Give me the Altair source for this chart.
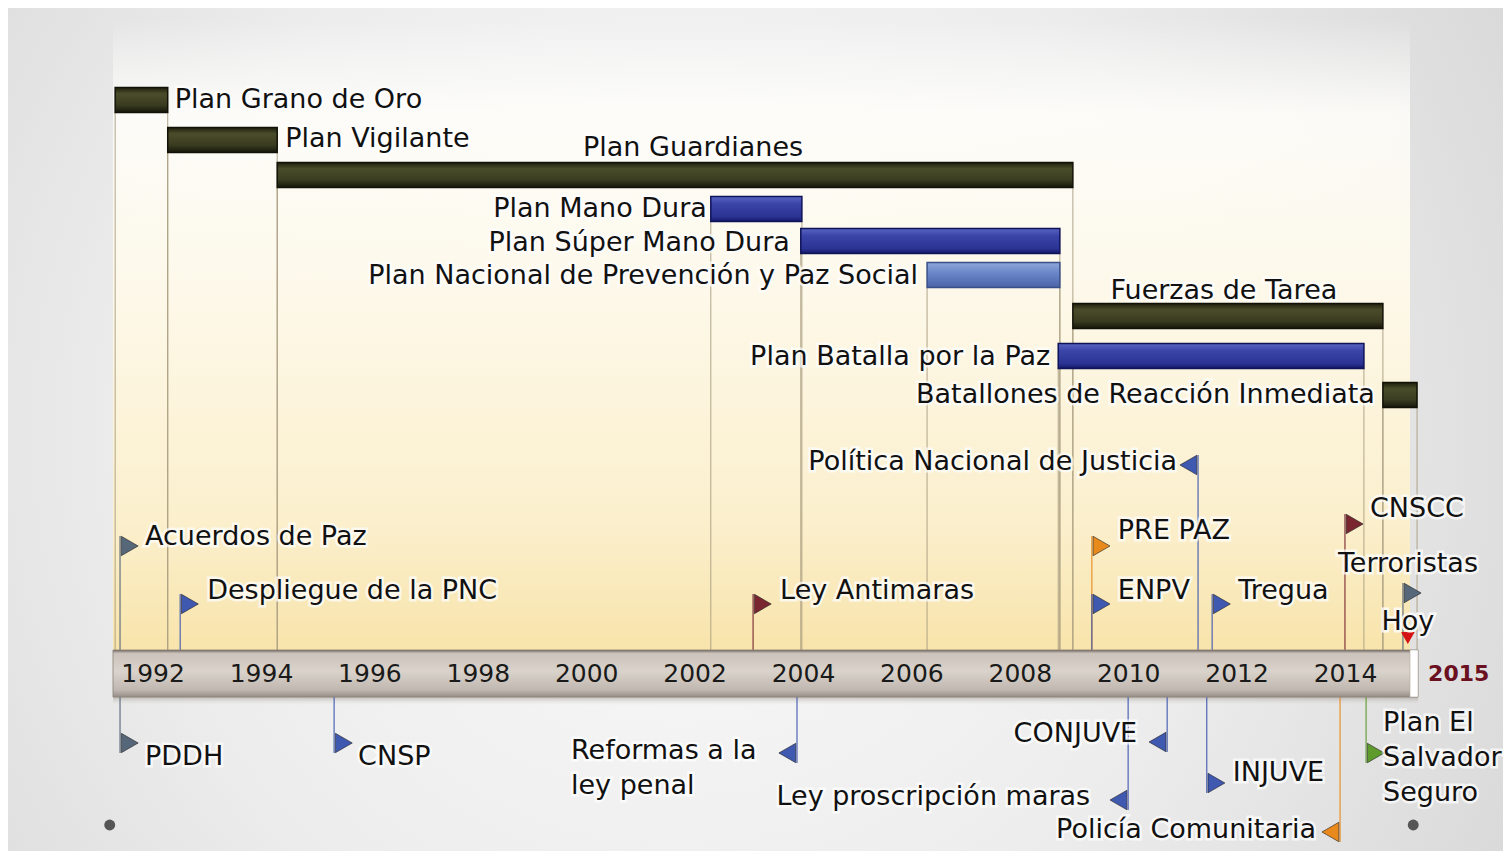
import altair as alt
import pandas as pd

# ---------------- data ----------------
bar_names = ["Plan Grano de Oro", "Plan Vigilante", "Plan Guardianes", "Plan Mano Dura",
             "Plan Súper Mano Dura", "Plan Nacional de Prevención y Paz Social",
             "Fuerzas de Tarea", "Plan Batalla por la Paz", "Batallones de Reacción Inmediata"]
bar_start = [1991.80, 1992.77, 1994.79, 2002.79, 2004.45, 2006.78, 2009.47, 2009.20, 2015.19]
bar_end = [1992.77, 1994.79, 2009.47, 2004.47, 2009.23, 2009.23, 2015.19, 2014.84, 2015.82]
bar_kind = ["militar", "militar", "militar", "represivo", "represivo", "preventivo",
            "militar", "represivo", "militar"]

event_names = ["Acuerdos de Paz", "Despliegue de la PNC", "Ley Antimaras", "PRE PAZ", "ENPV",
               "Política Nacional de Justicia", "Tregua", "CNSCC", "Terroristas",
               "PDDH", "CNSP", "Reformas a la\nley penal", "Ley proscripción maras",
               "CONJUVE", "INJUVE", "Policía Comunitaria", "Plan El\nSalvador\nSeguro"]
event_years = [1991.89, 1993.00, 2003.57, 2009.82, 2009.82, 2011.78, 2012.04, 2014.49, 2015.56,
               1991.89, 1995.84, 2004.38, 2010.49, 2011.21, 2011.94, 2014.40, 2014.88]
event_kind = ["general", "institucional", "represivo", "preventivo", "institucional",
              "institucional", "institucional", "represivo", "general",
              "general", "institucional", "institucional", "institucional",
              "institucional", "institucional", "preventivo", "seguridad"]

tick_years = [1992, 1994, 1996, 1998, 2000, 2002, 2004, 2006, 2008, 2010, 2012, 2014]
end_label = "2015"
today_label = "Hoy"
today_year = 2015.65

# ---------------- layout / style ----------------
W, H = 1495, 843
X_DOMAIN = [1989.823, 2017.406]
Y_DOMAIN = [8, 851]          # vertical layout units, top to bottom
PPY = W / (X_DOMAIN[1] - X_DOMAIN[0])   # pixels per year
AXIS_START, AXIS_END, PANEL_END = 1991.76, 2015.84, 2015.69
AXIS_TOP, AXIS_BOTTOM = 650, 697
BAR_HALF = 12.5
FONT = "DejaVu Sans"
FS = 27

bar_row = [100, 140, 175, 209, 241, 275, 316, 356, 395]
bar_label_side = ["right", "right", "above", "left", "left", "left", "above", "left", "left"]
bar_label_dx = [7, 8, 18, -4, -11, -9, -4, -8, -8]
bar_label_dy = [0, -1, -27, 0, 2, 1, -25, 1, 0]

ev_side = ["above"] * 9 + ["below"] * 8
ev_flag_y = [546, 604, 604, 546, 604, 465, 604, 524, 593, 743, 743, 753, 800, 742, 783, 832, 753]
ev_dir = ["right", "right", "right", "right", "right", "left", "right", "right", "right",
          "right", "right", "left", "left", "left", "right", "left", "right"]
ev_label_dx = [25, 27, 27, 26, 26, -21, 26, 25, 5, 25, 24, -226, -38, -30, 26, -24, 17]
ev_label_y = [537, 591, 591, 531, 591, 462, 591, 509, 564, 757, 757, 751, 797, 734, 773, 830, 723]
ev_align = ["left", "left", "left", "left", "left", "right", "left", "left", "center",
            "left", "left", "left", "right", "right", "left", "right", "left"]

kind_color = {"general": "#56677a", "institucional": "#3f58b0", "represivo": "#7a2630",
              "preventivo": "#e8891c", "seguridad": "#5e9a2c"}


def vgrad(stops):
    return alt.LinearGradient(gradient="linear", x1=0, y1=0, x2=0, y2=1,
                              stops=[alt.GradientStop(offset=o, color=c) for o, c in stops])


def X(f):
    return alt.X(f"{f}:Q", scale=alt.Scale(domain=X_DOMAIN, nice=False, zero=False), axis=None)


def X2(f):
    return alt.X2(f"{f}:Q")


def Y(f):
    return alt.Y(f"{f}:Q", scale=alt.Scale(domain=Y_DOMAIN, nice=False, zero=False, reverse=True),
                 axis=None)


def Y2(f):
    return alt.Y2(f"{f}:Q")


# ---------------- frames ----------------
bars = pd.DataFrame({"name": bar_names, "start": bar_start, "end": bar_end, "kind": bar_kind,
                     "row": bar_row, "side": bar_label_side, "dx": bar_label_dx, "dy": bar_label_dy})
bars["top"] = bars["row"] - BAR_HALF
bars["bottom"] = bars["row"] + BAR_HALF
bars["axis_top"] = AXIS_TOP


def bar_label_x(r):
    if r["side"] == "right":
        base = r["end"]
    elif r["side"] == "left":
        base = r["start"]
    else:
        base = (r["start"] + r["end"]) / 2
    return base + r["dx"] / PPY


bars["lx"] = bars.apply(bar_label_x, axis=1)
bars["ly"] = bars["row"] + bars["dy"]
bars["align"] = bars["side"].map({"right": "left", "left": "right", "above": "center"})

conn = pd.concat([
    bars[["start", "bottom"]].rename(columns={"start": "x"}),
    bars[["end", "bottom"]].rename(columns={"end": "x"}),
])
conn["axis_top"] = AXIS_TOP

ev = pd.DataFrame({"name": event_names, "year": event_years, "kind": event_kind,
                   "side": ev_side, "fy": ev_flag_y, "dir": ev_dir, "ldx": ev_label_dx,
                   "ly": ev_label_y, "align": ev_align})
ev["color"] = ev["kind"].map(kind_color)
ev["l1"] = ev.apply(lambda r: r["fy"] - 10 if r["side"] == "above" else AXIS_BOTTOM, axis=1)
ev["l2"] = ev.apply(lambda r: AXIS_TOP if r["side"] == "above" else r["fy"] + 10, axis=1)
ev["lx"] = ev["year"] + ev["ldx"] / PPY

ticks = pd.DataFrame({"year": tick_years})
ticks["label"] = ticks["year"].astype(str)
ticks["xc"] = ticks["year"] + 0.5
ticks["y"] = (AXIS_TOP + AXIS_BOTTOM) / 2

one = pd.DataFrame({"a": [0]})
band = pd.DataFrame({"x": [AXIS_START], "x2": [AXIS_END], "y": [AXIS_TOP], "y2": [AXIS_BOTTOM],
                     "px2": [PANEL_END], "py": [20], "sy2": [AXIS_BOTTOM + 9]})

# ---------------- layers ----------------
background = alt.Chart(one).mark_rect(
    fill=alt.RadialGradient(gradient="radial", x1=0.45, y1=0.5, r1=0.0, x2=0.45, y2=0.5, r2=0.72,
                            stops=[alt.GradientStop(offset=0, color="#fbfbfb"),
                                   alt.GradientStop(offset=0.5, color="#ededed"),
                                   alt.GradientStop(offset=1, color="#d2d2d2")])
).encode(x=alt.value(0), x2=alt.value(W), y=alt.value(0), y2=alt.value(H))

panel = alt.Chart(band).mark_rect(
    fill=vgrad([(0, "rgba(255,255,255,0)"), (0.15, "rgba(255,254,250,0.85)"), (0.45, "#fdf8e8"),
                (0.8, "#fbefcc"), (1, "#f8e4ab")])
).encode(x=X("x"), x2=X2("px2"), y=Y("py"), y2=Y2("y"))

shadow = alt.Chart(band).mark_rect(
    fill=vgrad([(0, "#a09890"), (1, "rgba(240,240,240,0)")]), opacity=0.6
).encode(x=X("x"), x2=X2("x2"), y=Y("y2"), y2=Y2("sy2"))

axis_band = alt.Chart(band).mark_rect(
    fill=vgrad([(0, "#6f665f"), (0.07, "#cbc3bb"), (0.45, "#dad3cb"), (0.85, "#c0b8b0"), (1, "#968e86")]),
    stroke="#8a8279", strokeWidth=0.8
).encode(x=X("x"), x2=X2("x2"), y=Y("y"), y2=Y2("y2"))

axis_tip = alt.Chart(band).mark_rect(fill="#ffffff", stroke="#b0a8a0", strokeWidth=0.6).encode(
    x=X("px2"), x2=X2("x2"), y=Y("y"), y2=Y2("y2"))

connectors = alt.Chart(conn).mark_rule(color="#a89c80", strokeWidth=1, opacity=0.9).encode(
    x=X("x"), y=Y("bottom"), y2=Y2("axis_top"))

bar_styles = {
    "militar": ([(0, "#1e1f0c"), (0.25, "#4a4d2b"), (0.7, "#3a3c20"), (1, "#16160a")], "#111108"),
    "represivo": ([(0, "#5a64c2"), (0.3, "#3a44a8"), (0.8, "#2b3494"), (1, "#141968")], "#0f1358"),
    "preventivo": ([(0, "#8ea6da"), (0.4, "#6c88c9"), (1, "#4b64a8")], "#3a4f88"),
}
bar_layers = []
for k, (stops, stroke) in bar_styles.items():
    bar_layers.append(
        alt.Chart(bars).transform_filter(alt.datum.kind == k).mark_rect(
            fill=vgrad(stops), stroke=stroke, strokeWidth=1.5
        ).encode(x=X("start"), x2=X2("end"), y=Y("top"), y2=Y2("bottom"))
    )

text_layers = []
for al in ["left", "right", "center"]:
    base_b = alt.Chart(bars).transform_filter(alt.datum.align == al)
    text_layers.append(base_b.mark_text(align=al, baseline="middle", font=FONT, fontSize=FS,
                                        color="white", stroke="white", strokeWidth=5,
                                        strokeOpacity=0.8, opacity=0.9)
                       .encode(x=X("lx"), y=Y("ly"), text="name:N"))
    text_layers.append(base_b.mark_text(align=al, baseline="middle", font=FONT, fontSize=FS,
                                        color="#111111")
                       .encode(x=X("lx"), y=Y("ly"), text="name:N"))
    base_e = alt.Chart(ev).transform_filter(alt.datum.align == al)
    text_layers.append(base_e.mark_text(align=al, baseline="middle", font=FONT, fontSize=FS,
                                        lineBreak="\n", lineHeight=35,
                                        color="white", stroke="white", strokeWidth=5,
                                        strokeOpacity=0.8, opacity=0.9)
                       .encode(x=X("lx"), y=Y("ly"), text="name:N"))
    text_layers.append(base_e.mark_text(align=al, baseline="middle", font=FONT, fontSize=FS,
                                        lineBreak="\n", lineHeight=35, color="#111111")
                       .encode(x=X("lx"), y=Y("ly"), text="name:N"))

event_lines = alt.Chart(ev).mark_rule(strokeWidth=1.3, opacity=0.85).encode(
    x=X("year"), y=Y("l1"), y2=Y2("l2"), color=alt.Color("color:N", scale=None))

flags_r = alt.Chart(ev).transform_filter(alt.datum.dir == "right").mark_point(
    shape="triangle-right", filled=True, size=380, xOffset=9.7, opacity=1,
    stroke="#202020", strokeWidth=0.6
).encode(x=X("year"), y=Y("fy"), color=alt.Color("color:N", scale=None))

flags_l = alt.Chart(ev).transform_filter(alt.datum.dir == "left").mark_point(
    shape="triangle-left", filled=True, size=380, xOffset=-9.7, opacity=1,
    stroke="#202020", strokeWidth=0.6
).encode(x=X("year"), y=Y("fy"), color=alt.Color("color:N", scale=None))

tick_text = alt.Chart(ticks).mark_text(font=FONT, fontSize=25, color="#1a1a1a",
                                       baseline="middle", align="center").encode(
    x=X("xc"), y=Y("y"), text="label:N")

end_df = pd.DataFrame({"x": [AXIS_END], "y": [(AXIS_TOP + AXIS_BOTTOM) / 2], "label": [end_label]})
end_text = alt.Chart(end_df).mark_text(font=FONT, fontSize=22, fontWeight="bold", color="#6a1020",
                                       align="left", baseline="middle", dx=10).encode(
    x=X("x"), y=Y("y"), text="label:N")

today_df = pd.DataFrame({"x": [today_year], "fy": [AXIS_TOP - 12], "ly": [AXIS_TOP - 28],
                         "label": [today_label]})
today_mark = alt.Chart(today_df).mark_point(shape="triangle-down", filled=True, size=190,
                                             color="#d41414", opacity=1).encode(
    x=X("x"), y=Y("fy"))
today_text_bg = alt.Chart(today_df).mark_text(font=FONT, fontSize=FS, align="center", baseline="middle",
                                              color="white", stroke="white", strokeWidth=5,
                                              strokeOpacity=0.8).encode(
    x=X("x"), y=Y("ly"), text="label:N")
today_text = alt.Chart(today_df).mark_text(font=FONT, fontSize=FS, align="center", baseline="middle",
                                           color="#111111").encode(
    x=X("x"), y=Y("ly"), text="label:N")

dots_df = pd.DataFrame({"x": [AXIS_START - 0.06, AXIS_END - 0.09], "y": [825, 825]})
dots = alt.Chart(dots_df).mark_circle(size=120, color="#555555", opacity=1).encode(
    x=X("x"), y=Y("y"))

chart = alt.layer(
    background, panel, shadow, connectors, *bar_layers, event_lines, axis_band, axis_tip,
    flags_r, flags_l, tick_text, end_text, today_mark, today_text_bg, today_text, *text_layers, dots
).properties(
    width=W, height=H, padding=0,
    autosize=alt.AutoSizeParams(type="fit", contains="padding")
).configure_view(stroke="#222222", strokeWidth=1.5)

chart.save("out.html", embed_options={"renderer": "svg", "actions": False})
